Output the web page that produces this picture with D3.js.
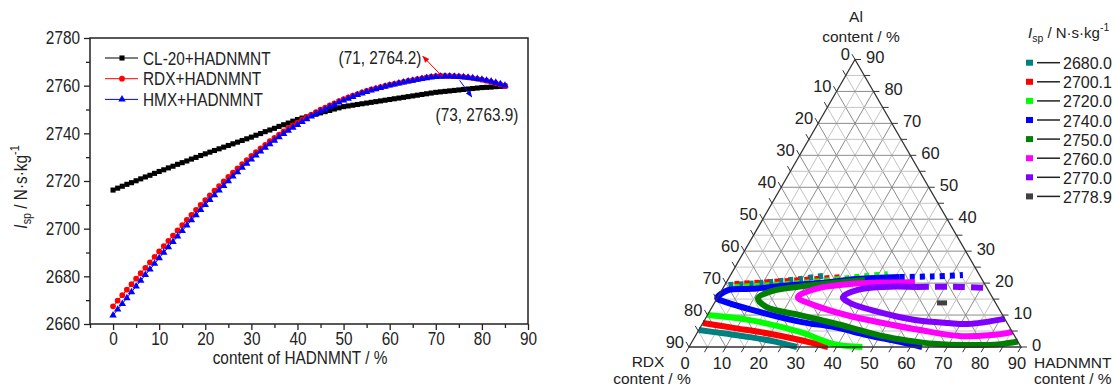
<!DOCTYPE html>
<html>
<head>
<meta charset="utf-8">
<script src="https://cdn.jsdelivr.net/npm/d3@7"></script>
<style>
  body { margin: 0; background: #fff; }
  svg text { font-family: "Liberation Sans", Arial, sans-serif; fill: #222; }
</style>
</head>
<body>
<script>
const width = 1114, height = 387;

// ---- left chart data: Isp vs HADNMNT content ----
const hadnmnt = d3.range(0, 86);
const cl20 = [
  2716.2,2717.0,2717.8,2718.6,2719.3,2720.1,2720.9,2721.7,2722.4,2723.2,
  2724.0,2724.7,2725.5,2726.2,2727.0,2727.7,2728.4,2729.2,2729.9,2730.7,
  2731.4,2732.1,2732.8,2733.5,2734.2,2734.9,2735.6,2736.3,2737.0,2737.7,
  2738.4,2739.2,2739.9,2740.7,2741.4,2742.1,2742.9,2743.6,2744.3,2745.1,
  2745.8,2746.4,2746.9,2747.5,2748.0,2748.6,2749.1,2749.6,2750.2,2750.7,
  2751.2,2751.5,2751.8,2752.1,2752.4,2752.7,2753.0,2753.3,2753.6,2753.9,
  2754.2,2754.5,2754.8,2755.1,2755.4,2755.7,2756.0,2756.3,2756.6,2756.9,
  2757.2,2757.4,2757.6,2757.8,2758.0,2758.2,2758.4,2758.6,2758.8,2759.0,
  2759.2,2759.3,2759.4,2759.6,2759.7,2759.8];
const rdx = [
  2667.4,2669.8,2672.1,2674.4,2676.7,2679.0,2681.3,2683.6,2685.9,2688.2,
  2690.5,2692.7,2694.9,2697.1,2699.3,2701.5,2703.7,2705.8,2707.9,2710.0,
  2712.0,2714.0,2716.0,2717.9,2719.8,2721.7,2723.5,2725.3,2727.1,2728.8,
  2730.5,2732.1,2733.7,2735.2,2736.7,2738.1,2739.5,2740.8,2742.1,2743.3,
  2744.5,2745.7,2746.8,2747.9,2748.9,2749.9,2750.8,2751.7,2752.6,2753.5,
  2754.3,2755.1,2755.8,2756.5,2757.2,2757.8,2758.4,2758.9,2759.4,2759.9,
  2760.4,2760.8,2761.2,2761.6,2762.0,2762.3,2762.7,2763.1,2763.5,2763.8,
  2764.0,2764.2,2764.1,2764.1,2764.0,2763.9,2763.7,2763.5,2763.2,2762.9,
  2762.5,2762.1,2761.6,2761.1,2760.5,2759.9];
const hmx = [
  2663.6,2666.1,2668.5,2670.9,2673.4,2675.8,2678.2,2680.6,2682.9,2685.3,
  2687.7,2690.0,2692.3,2694.5,2696.8,2699.1,2701.4,2703.6,2705.7,2707.9,
  2710.0,2712.1,2714.1,2716.1,2718.0,2720.0,2721.9,2723.7,2725.6,2727.3,
  2729.1,2730.8,2732.4,2734.0,2735.5,2737.0,2738.4,2739.8,2741.1,2742.4,
  2743.6,2744.8,2746.0,2747.1,2748.2,2749.2,2750.1,2751.1,2752.0,2753.0,
  2753.8,2754.6,2755.3,2756.1,2756.8,2757.4,2758.0,2758.6,2759.1,2759.6,
  2760.1,2760.5,2761.0,2761.4,2761.8,2762.1,2762.5,2762.9,2763.2,2763.5,
  2763.7,2763.8,2763.9,2763.9,2763.8,2763.7,2763.6,2763.4,2763.2,2762.9,
  2762.6,2762.2,2761.8,2761.3,2760.7,2760.1];
const seriesNames = ["CL-20+HADNMNT", "RDX+HADNMNT", "HMX+HADNMNT"];
const xTicks = [0, 10, 20, 30, 40, 50, 60, 70, 80, 90];
const yTicks = [2660, 2680, 2700, 2720, 2740, 2760, 2780];
// peak annotations [x, y, label]
const peakRdx = [71, 2764.2, "(71, 2764.2)"];
const peakHmx = [73, 2763.9, "(73, 2763.9)"];

// ---- right chart data: ternary contours (HADNMNT %, Al %) ----
const levels = ["2680.0", "2700.1", "2720.0", "2740.0", "2750.0", "2760.0", "2770.0", "2778.9"];
const levelColors = ["#008080", "#ff0000", "#00ff00", "#0000ff", "#008000", "#ff00ff", "#8000ff", "#404040"];
const c2680 = [[0,5.3],[7.7,4.2],[15,3.1],[22.5,1.7],[29.3,0]];
const c2680Top = [[1,19.4],[9,20],[19.5,21.3],[26.5,22.5]];
const c2700 = [[0,7.5],[9.5,5.9],[19,4.3],[29,2.2],[37.7,0]];
const c2700Top = [[2.5,19.7],[17,20.7],[31,21.9]];
const c2720 = [[0,10],[12.3,8.4],[27.7,4.7],[38.5,1.0],[47,0]];
const c2720Top = [[3,18.8],[20,20],[37,22.2],[42.5,22.8]];
const c2740 = [[46.2,21.9],[34.9,21.3],[25.5,20.0],[16.4,19.2],[8.0,18.2],[1.7,17.8],[0,15.3],[3.7,13.8],[11.3,11.6],[26.7,7.8],[35.9,6.3],[46.4,3.75],[56.4,1.6],[63.2,0]];
const c2740Top = [[46.2,21.9],[54.9,22.1],[63,22.5]];
const c2750 = [[37.2,21.0],[29.0,20.0],[20.6,18.9],[13.7,17.5],[11.1,15.2],[14.8,12.5],[25.1,10.0],[35.3,7.5],[43.7,5.3],[50.9,3.4],[58.5,2.0],[66,1.0],[74.5,0.6],[84,0.9],[88.3,1.7]];
const c2760 = [[51.1,20.3],[42.5,20.2],[33.8,19.7],[25.5,18.3],[21.7,15.6],[28.3,12.8],[38.8,9.7],[48.8,7.5],[60.0,5.3],[72.3,3.4],[84.3,4.4],[85.1,4.9]];
const c2770 = [[52.4,18.8],[43.2,18.8],[36.6,17.8],[33.9,15.6],[36.7,13.8],[47.3,10.6],[57.1,8.45],[66.5,7.5],[72.0,7.2],[81.2,8.8]];
const c2770Top = [[52.4,18.8],[64.1,18.8],[71.5,18.5]];
const c2778 = [61.7, 13.8];
const ternTicks = [0, 10, 20, 30, 40, 50, 60, 70, 80, 90];

const svg = d3.select("body").append("svg")
  .attr("width", width)
  .attr("height", height);

// ================= LEFT CHART =================
const x = d3.scaleLinear().domain([-5, 90]).range([90, 528]);
const y = d3.scaleLinear().domain([2660, 2780]).range([324, 38]);

const left = svg.append("g");

left.append("g")
  .attr("transform", `translate(0,${y.range()[0]})`)
  .call(d3.axisBottom(x).tickValues(xTicks).tickSize(6).tickPadding(2).tickFormat(d3.format("d")));
left.append("g")
  .attr("transform", `translate(0,${y.range()[0]})`)
  .call(d3.axisBottom(x).tickValues([-5, 5, 15, 25, 35, 45, 55, 65, 75, 85]).tickSize(4).tickFormat(""));
left.append("g")
  .attr("transform", `translate(${x.range()[0]},0)`)
  .call(d3.axisLeft(y).tickValues(yTicks).tickSize(6).tickPadding(4).tickFormat(d3.format("d")));
left.append("g")
  .attr("transform", `translate(${x.range()[0]},0)`)
  .call(d3.axisLeft(y).tickValues([2670, 2690, 2710, 2730, 2750, 2770]).tickSize(4).tickFormat(""));
left.selectAll(".domain").remove();
left.selectAll(".tick line").attr("stroke", "#222").attr("stroke-width", 1.3);
left.selectAll(".tick text").style("font-size", "18.5px").attr("fill", "#222");

left.append("rect")
  .attr("x", 90).attr("y", 38)
  .attr("width", 528 - 90).attr("height", 324 - 38)
  .attr("fill", "none").attr("stroke", "#222").attr("stroke-width", 1.5);

const series = [
  { name: seriesNames[0], values: cl20, color: "#000000", sym: d3.symbolSquare, size: 26 },
  { name: seriesNames[1], values: rdx, color: "#ff0000", sym: d3.symbolCircle, size: 26 },
  { name: seriesNames[2], values: hmx, color: "#0000ff", sym: d3.symbolTriangle, size: 24 },
];
const line = d3.line().x((d, i) => x(hadnmnt[i])).y(d => y(d));

series.forEach(s => {
  left.append("path").datum(s.values)
    .attr("d", line).attr("fill", "none")
    .attr("stroke", s.color).attr("stroke-width", 1);
  left.append("g").selectAll("path")
    .data(s.values).join("path")
    .attr("transform", (d, i) => `translate(${x(hadnmnt[i])},${y(d)})`)
    .attr("d", d3.symbol().type(s.sym).size(s.size))
    .attr("fill", s.color);
});

// legend
const lg = left.append("g");
series.forEach((s, i) => {
  const ly = 58 + i * 20.7;
  lg.append("line").attr("x1", 105).attr("x2", 138).attr("y1", ly).attr("y2", ly)
    .attr("stroke", s.color).attr("stroke-width", 1);
  lg.append("path").attr("transform", `translate(122,${ly})`)
    .attr("d", d3.symbol().type(s.sym).size(s.size)).attr("fill", s.color);
  lg.append("text").attr("x", 143).attr("y", ly + 6.5)
    .style("font-size", "18.5px").text(s.name);
});

// peak annotations
const defs = svg.append("defs");
[["arrRed", "#ff0000"], ["arrBlue", "#0000ff"]].forEach(([id, c]) => {
  defs.append("marker").attr("id", id)
    .attr("viewBox", "0 0 10 10").attr("refX", 9).attr("refY", 5)
    .attr("markerWidth", 7).attr("markerHeight", 7).attr("orient", "auto")
    .append("path").attr("d", "M0,1L10,5L0,9z").attr("fill", c);
});
left.append("line")
  .attr("x1", x(peakRdx[0]) + 2).attr("y1", y(peakRdx[1]) + 1)
  .attr("x2", x(67.2)).attr("y2", y(2772.3))
  .attr("stroke", "#ff0000").attr("stroke-width", 1).attr("marker-end", "url(#arrRed)");
left.append("text").attr("x", 380).attr("y", 64).attr("text-anchor", "middle")
  .style("font-size", "18.5px").text(peakRdx[2]);
left.append("line")
  .attr("x1", x(peakHmx[0]) + 10).attr("y1", y(peakHmx[1]) + 4)
  .attr("x2", x(77.8)).attr("y2", y(2755.3))
  .attr("stroke", "#0000ff").attr("stroke-width", 1).attr("marker-end", "url(#arrBlue)");
left.append("text").attr("x", 477).attr("y", 121).attr("text-anchor", "middle")
  .style("font-size", "18.5px").text(peakHmx[2]);

// axis titles
left.append("text").attr("x", 300).attr("y", 364).attr("text-anchor", "middle")
  .style("font-size", "18.5px").text("content of HADNMNT / %");
const yt = left.append("text")
  .attr("transform", "translate(27,187) rotate(-90)")
  .attr("text-anchor", "middle").style("font-size", "18.5px");
yt.append("tspan").style("font-style", "italic").text("I");
yt.append("tspan").attr("dy", 4).style("font-size", "13px").text("sp");
yt.append("tspan").attr("dy", -4).text(" / N·s·kg");
yt.append("tspan").attr("dy", -8).style("font-size", "13px").text("-1");

// the original uses a condensed face: squeeze the left chart's texts
left.selectAll("text").each(function () {
  const w = this.getComputedTextLength();
  d3.select(this).attr("textLength", w * 0.83).attr("lengthAdjust", "spacingAndGlyphs");
});

// ================= RIGHT CHART (ternary) =================
const side = 332, T0 = 689, TB = 347;
const tx = d3.scaleLinear().domain([0, 90]).range([0, side]);
const ty = d3.scaleLinear().domain([0, 90]).range([0, side * Math.sqrt(3) / 2]);
const tp = (h, a) => [T0 + tx(h) + tx(a) / 2, TB - ty(a)];

const tern = svg.append("g");

// grid every 5 units
const gridVals = d3.range(5, 90, 5);
const grid = tern.append("g");
gridVals.forEach(v => {
  const col = v % 10 === 0 ? "#8c8c8c" : "#c4c4c4";
  const segs = [
    [tp(0, v), tp(90 - v, v)],        // Al const
    [tp(v, 0), tp(v, 90 - v)],        // HADNMNT const
    [tp(90 - v, 0), tp(0, 90 - v)],   // RDX const
  ];
  segs.forEach(s => grid.append("line")
    .attr("x1", s[0][0]).attr("y1", s[0][1]).attr("x2", s[1][0]).attr("y2", s[1][1])
    .attr("stroke", col).attr("stroke-width", 1));
});

// contours
const tline = d3.line().x(d => tp(d[0], d[1])[0]).y(d => tp(d[0], d[1])[1]).curve(d3.curveCatmullRom);
const contours = [
  [c2680Top, 0, "5,5"], [c2700Top, 1, "5,5"], [c2720Top, 2, "5,5"], [c2740Top, 3, "5,5"],
  [c2680, 0, null], [c2700, 1, null], [c2720, 2, null], [c2740, 3, null],
  [c2750, 4, null], [c2760, 5, null], [c2770, 6, null], [c2770Top, 6, "12,6"],
];
contours.forEach(([pts, li, dash]) => {
  tern.append("path").datum(pts)
    .attr("d", tline).attr("fill", "none")
    .attr("stroke", levelColors[li]).attr("stroke-width", 6)
    .attr("stroke-dasharray", dash);
});
const mp = tp(c2778[0], c2778[1]);
tern.append("rect").attr("x", mp[0] - 5).attr("y", mp[1] - 2.5)
  .attr("width", 10).attr("height", 5).attr("fill", levelColors[7]);

// triangle outline
tern.append("path")
  .attr("d", "M" + [tp(0, 0), tp(90, 0), tp(0, 90)].map(p => p.join(",")).join("L") + "Z")
  .attr("fill", "none").attr("stroke", "#333").attr("stroke-width", 1.3);

// ticks + labels
const tk = tern.append("g");
d3.range(0, 91, 5).forEach(v => {
  const major = ternTicks.includes(v);
  const L = 6;
  // left edge (RDX): point with RDX = v
  let p = tp(0, 90 - v);
  tk.append("line").attr("x1", p[0]).attr("y1", p[1]).attr("x2", p[0] - L * 0.5).attr("y2", p[1] - L * 0.866).attr("stroke", "#333");
  if (major) tk.append("text").attr("x", p[0] - 5).attr("y", p[1] + 1).attr("text-anchor", "end")
    .style("font-size", "16.5px").text(v);
  // bottom edge (HADNMNT)
  p = tp(v, 0);
  tk.append("line").attr("x1", p[0]).attr("y1", p[1]).attr("x2", p[0] - L * 0.5).attr("y2", p[1] + L * 0.866).attr("stroke", "#333");
  if (major) tk.append("text").attr("x", p[0] - 4).attr("y", p[1] + 22).attr("text-anchor", "middle")
    .style("font-size", "16.5px").text(v);
  // right edge (Al)
  p = tp(90 - v, v);
  tk.append("line").attr("x1", p[0]).attr("y1", p[1]).attr("x2", p[0] + L).attr("y2", p[1]).attr("stroke", "#333");
  if (major) tk.append("text").attr("x", p[0] + 11).attr("y", p[1] + 4).attr("text-anchor", "start")
    .style("font-size", "16.5px").text(v);
});

// axis titles
const tt = (txt, xx, yy, anchor) => tern.append("text").attr("x", xx).attr("y", yy)
  .attr("text-anchor", anchor).style("font-size", "15.5px").text(txt);
tt("Al", 856, 22, "middle");
tt("content / %", 861, 42, "middle");
tt("RDX", 648, 367, "middle");
tt("content / %", 652, 384, "middle");
tt("HADNMNT", 1034, 368, "start");
tt("content / %", 1034, 384, "start");

// legend
const tl = tern.append("g");
const lt = tl.append("text").attr("x", 1028).attr("y", 38).style("font-size", "15px");
lt.append("tspan").style("font-style", "italic").text("I");
lt.append("tspan").attr("dy", 4).style("font-size", "10.5px").text("sp");
lt.append("tspan").attr("dy", -4).text(" / N·s·kg");
lt.append("tspan").attr("dy", -7).style("font-size", "10.5px").text("-1");
levels.forEach((lv, i) => {
  const ly = 62.7 + i * 19.1;
  tl.append("rect").attr("x", 1026).attr("y", ly - 3).attr("width", 7).attr("height", 6).attr("fill", levelColors[i]);
  tl.append("line").attr("x1", 1037).attr("x2", 1060).attr("y1", ly).attr("y2", ly)
    .attr("stroke", "#222").attr("stroke-width", 1.5);
  tl.append("text").attr("x", 1063).attr("y", ly + 6.5).style("font-size", "16px").text(lv);
});
</script>
</body>
</html>
